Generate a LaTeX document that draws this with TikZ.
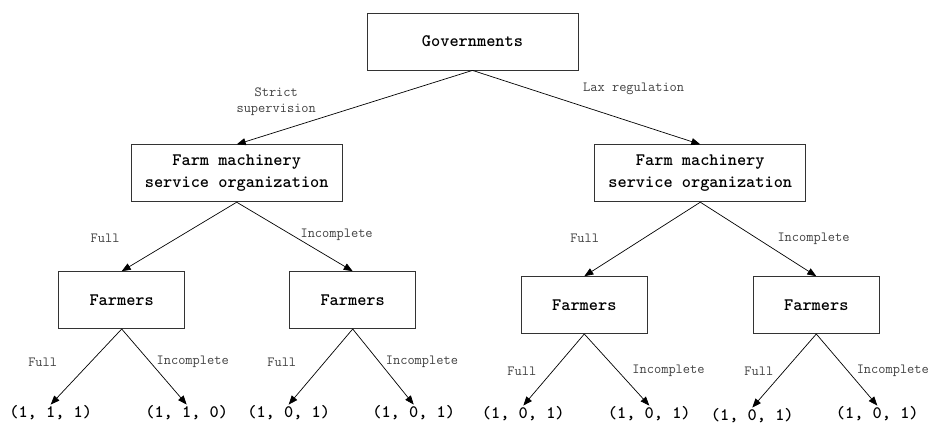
\documentclass[tikz,border=0pt]{standalone}
\usetikzlibrary{arrows.meta,positioning}

\begin{document}
\begin{tikzpicture}[
    x=1pt, y=-1pt,
    player/.style={
        draw=black!80,
        line width=0.8pt,
        align=center,
        minimum width=211pt,
        minimum height=57pt,
        inner sep=2pt,
        font=\ttfamily\bfseries\fontsize{17.5}{22}\selectfont
    },
    farmer/.style={
        player,
        minimum width=126pt
    },
    payoff/.style={
        inner sep=1pt,
        font=\ttfamily\bfseries\fontsize{17.5}{18}\selectfont
    },
    arrow/.style={
        -{Triangle[length=9pt,width=7pt]},
        line width=0.7pt,
        color=black
    },
    label/.style={
        font=\ttfamily\fontsize{14}{16}\selectfont,
        align=center,
        inner sep=1pt,
        text=black!75
    }
]
\useasboundingbox (0,0) rectangle (929,423);

% Governments
\node[player] (gov) at (472.5,41.5) {Governments};

% Farm machinery service organizations
\node[player, below left=74pt and 24pt of gov] (lorg)
{Farm machinery\\service organization};

\node[player, below right=74pt and 16pt of gov] (rorg)
{Farm machinery\\service organization};

% Farmers
\node[farmer, below=69pt of lorg.south, xshift=-115pt] (f1) {Farmers};
\node[farmer, below=69pt of lorg.south, xshift=116pt] (f2) {Farmers};
\node[farmer, below=74pt of rorg.south, xshift=-116pt] (f3) {Farmers};
\node[farmer, below=74pt of rorg.south, xshift=116pt] (f4) {Farmers};

% Payoffs
\node[payoff, below=84pt of f1.south, xshift=-71pt, anchor=center] (p1) {(1, 1, 1)};
\node[payoff, below=84pt of f1.south, xshift=65pt, anchor=center] (p2) {(1, 1, 0)};
\node[payoff, below=84pt of f2.south, xshift=-64pt, anchor=center] (p3) {(1, 0, 1)};
\node[payoff, below=84pt of f2.south, xshift=61pt, anchor=center] (p4) {(1, 0, 1)};
\node[payoff, below=80pt of f3.south, xshift=-61pt, anchor=center] (p5) {(1, 0, 1)};
\node[payoff, below=80pt of f3.south, xshift=65pt, anchor=center] (p6) {(1, 0, 1)};
\node[payoff, below=82pt of f4.south, xshift=-64pt, anchor=center] (p7) {(1, 0, 1)};
\node[payoff, below=80pt of f4.south, xshift=61pt, anchor=center] (p8) {(1, 0, 1)};

% Connections
\draw[arrow] (gov.south) -- node[label, pos=0.65, anchor=south east, xshift=-2pt, yshift=2pt]
{Strict\\supervision}
(lorg.north);

\draw[arrow] (gov.south) -- node[label, pos=0.48, anchor=south west, yshift=10pt]
{Lax regulation}
(rorg.north);

\draw[arrow] (lorg.south) -- node[label, pos=0.52, left=56pt] {Full} (f1.north);
\draw[arrow] (lorg.south) -- node[label, pos=0.47, right=8pt] {Incomplete} (f2.north);
\draw[arrow] (rorg.south) -- node[label, pos=0.49, left=43pt] {Full} (f3.north);
\draw[arrow] (rorg.south) -- node[label, pos=0.49, right=19pt] {Incomplete} (f4.north);

\draw[arrow] (f1.south) -- node[label, pos=0.44, left=32pt] {Full} (p1.north);
\draw[arrow] (f1.south) -- node[label, pos=0.44, right=5pt] {Incomplete} (p2.north);
\draw[arrow] (f2.south) -- node[label, pos=0.44, left=27pt] {Full} (p3.north);
\draw[arrow] (f2.south) -- node[label, pos=0.44, right=5pt] {Incomplete} (p4.north);
\draw[arrow] (f3.south) -- node[label, pos=0.52, left=15pt] {Full} (p5.north);
\draw[arrow] (f3.south) -- node[label, pos=0.52, right=13pt] {Incomplete} (p6.north);
\draw[arrow] (f4.south) -- node[label, pos=0.51, left=9pt] {Full} (p7.north);
\draw[arrow] (f4.south) -- node[label, pos=0.51, right=8pt] {Incomplete} (p8.north);

\end{tikzpicture}
\end{document}
